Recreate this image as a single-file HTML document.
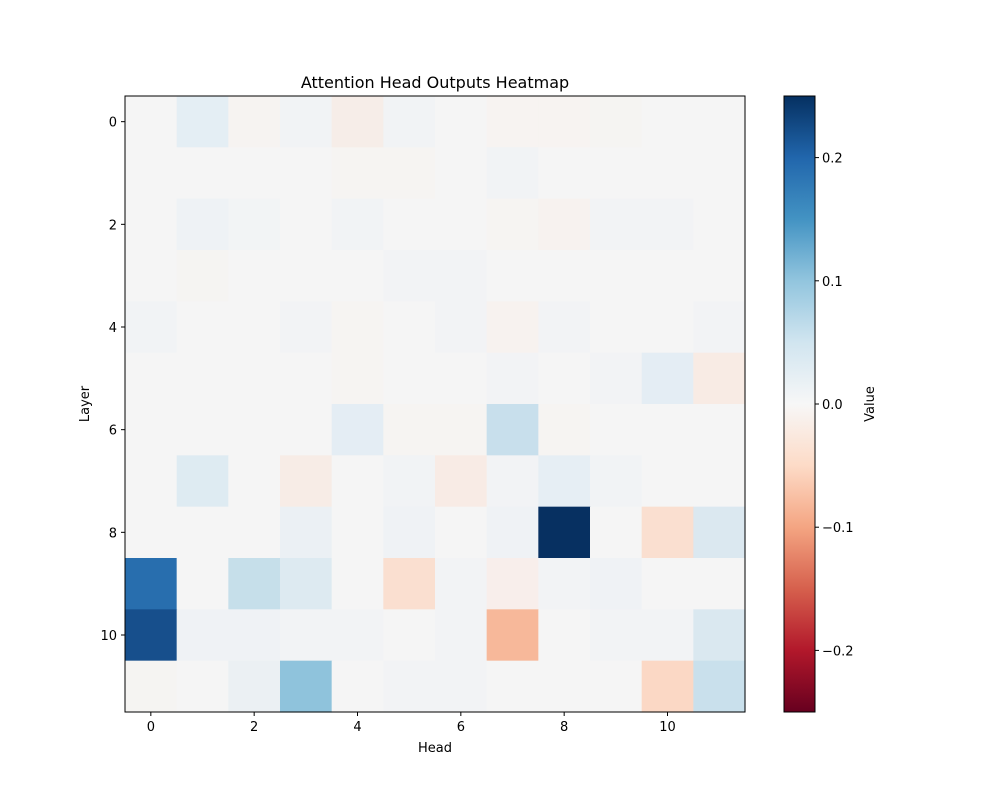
<!DOCTYPE html>
<html><head><meta charset="utf-8"><style>body{margin:0;background:#fff}svg{display:block;font-family:"DejaVu Sans","Liberation Sans",sans-serif}</style></head>
<body>
<svg id="s" width="1000" height="800" xmlns="http://www.w3.org/2000/svg">
<defs><linearGradient id="g" x1="0" y1="1" x2="0" y2="0">
<stop offset="0" stop-color="#67001f"/><stop offset="0.1" stop-color="#b2182b"/><stop offset="0.2" stop-color="#d6604d"/><stop offset="0.3" stop-color="#f4a582"/><stop offset="0.4" stop-color="#fddbc7"/><stop offset="0.5" stop-color="#f7f7f7"/><stop offset="0.6" stop-color="#d1e5f0"/><stop offset="0.7" stop-color="#92c5de"/><stop offset="0.8" stop-color="#4393c3"/><stop offset="0.9" stop-color="#2166ac"/><stop offset="1" stop-color="#053061"/></linearGradient></defs>
<rect width="1000" height="800" fill="#fff"/>
<text x="435" y="88" font-size="16" text-anchor="middle">Attention Head Outputs Heatmap</text>
<g id="cells"></g>
<rect x="125" y="96" width="620" height="616" fill="none" stroke="#000" stroke-width="1"/>
<g id="ticks" font-size="13"></g>
<text x="435" y="752" font-size="13" text-anchor="middle">Head</text>
<text transform="translate(89,404) rotate(-90)" font-size="13" text-anchor="middle">Layer</text>
<rect x="784" y="96" width="31" height="616" fill="url(#g)" stroke="#000" stroke-width="1"/>
<g id="cb" font-size="13"></g>
<text transform="translate(874,404) rotate(-90)" font-size="13" text-anchor="middle">Value</text>
</svg>
<script>
var B="#f5f5f5";
var d=[
["f5f5f5","e4eef4","f6f3f1","f1f3f5","f6ede8","f1f3f5","f5f5f5","f7f3f1","f7f3f1","f5f4f2","f5f5f5","f5f5f5"],
["f5f5f5","f5f5f5","f5f5f5","f5f5f5","f6f4f2","f6f4f2","f5f5f5","f1f3f5","f5f5f5","f5f5f5","f5f5f5","f5f5f5"],
["f5f5f5","eef2f5","f2f4f5","f5f5f5","f1f3f5","f5f5f5","f5f5f5","f6f4f2","f7f2ef","f2f3f5","f2f3f5","f5f5f5"],
["f5f5f5","f5f4f2","f5f5f5","f5f5f5","f5f5f5","f2f3f5","f2f3f5","f5f5f5","f5f5f5","f5f5f5","f5f5f5","f5f5f5"],
["f1f3f5","f5f5f5","f5f5f5","f2f3f5","f6f4f2","f5f5f5","f2f3f5","f7f2ef","f2f3f5","f5f5f5","f5f5f5","f2f3f5"],
["f5f5f5","f5f5f5","f5f5f5","f5f5f5","f6f4f2","f5f5f5","f5f5f5","f2f3f5","f5f5f5","f2f3f5","e4edf4","f8ebe4"],
["f5f5f5","f5f5f5","f5f5f5","f5f5f5","e4edf4","f6f4f2","f6f4f2","c8dfec","f6f4f2","f5f5f5","f5f5f5","f5f5f5"],
["f5f5f5","deebf2","f5f5f5","f7ece6","f5f5f5","f1f3f5","f8ebe5","f2f3f5","e6eef4","f1f3f5","f5f5f5","f5f5f5"],
["f5f5f5","f5f5f5","f5f5f5","ebf0f4","f5f5f5","eff2f5","f5f5f5","eff2f5","073061","f5f5f5","fadfd0","dbe8f0"],
["286eae","f5f5f5","c6dfea","ddeaf1","f5f5f5","fadfd0","f2f3f5","f8eeeb","f2f3f5","eff2f5","f5f5f5","f5f5f5"],
["174f8c","eff2f5","eff2f5","f2f3f5","f2f3f5","f5f5f5","f2f3f5","f7b89a","f5f5f5","f2f3f5","f2f3f5","dae8f0"],
["f5f4f2","f5f5f5","ebf0f3","8fc3dc","f5f5f5","f2f3f5","f2f3f5","f5f5f5","f5f5f5","f5f5f5","fbd8c5","c9e0ec"]];
var NS="http://www.w3.org/2000/svg",cw=620/12,ch=616/12;
function el(p,t,a,txt){var e=document.createElementNS(NS,t);for(var k in a)e.setAttribute(k,a[k]);if(txt!=null)e.textContent=txt;p.appendChild(e);return e;}
var c=document.getElementById("cells");
for(var r=0;r<12;r++)for(var j=0;j<12;j++)el(c,"rect",{x:125+j*cw,y:96+r*ch,width:cw+0.6,height:ch+0.6,fill:"#"+d[r][j]});
var t=document.getElementById("ticks");
for(var i=0;i<12;i+=2){var x=125+(i+.5)*cw;el(t,"line",{x1:x,x2:x,y1:712,y2:716,stroke:"#000"});el(t,"text",{x:x,y:731,"text-anchor":"middle"},i);
var y=96+(i+.5)*ch;el(t,"line",{x1:121,x2:125,y1:y,y2:y,stroke:"#000"});el(t,"text",{x:117,y:y+5,"text-anchor":"end"},i);}
var cb=document.getElementById("cb");
[0.2,0.1,0,-0.1,-0.2].forEach(function(v){var y=96+616*(0.25-v)/0.5;el(cb,"line",{x1:815,x2:819,y1:y,y2:y,stroke:"#000"});el(cb,"text",{x:822,y:y+5},(v<0?"\u2212":"")+Math.abs(v).toFixed(1));});
</script>
</body></html>
